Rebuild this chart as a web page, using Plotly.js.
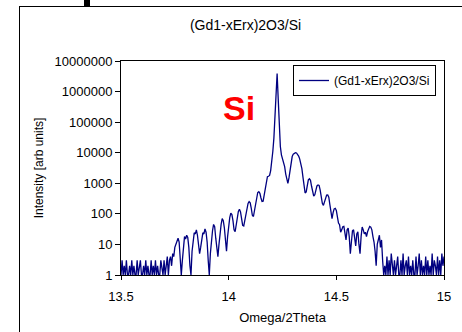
<!DOCTYPE html>
<html>
<head>
<meta charset="utf-8">
<script src="https://cdn.plot.ly/plotly-3.0.1.min.js"></script>
<style>
  html, body { margin: 0; padding: 0; background: #fff; }
  #wrap { position: relative; width: 462px; height: 332px; overflow: hidden; }
  #chart { position: absolute; left: 0; top: 0; width: 462px; height: 332px; }
  #frame { position: absolute; left: 19px; top: 6px; width: 460px; height: 340px; border: 1.5px solid #000; pointer-events: none; box-sizing: border-box; }
  #tab { position: absolute; left: 84px; top: 0px; width: 6px; height: 7px; background: #000; pointer-events: none; }
</style>
</head>
<body>
<div id="wrap">
  <div id="chart"></div>
  <div id="frame"></div>
  <div id="tab"></div>
</div>
<script>
// Scan grid (omega/2theta, degrees)
const scanStart = 13.5;
const scanStep = 0.005;

// Measured intensity (arb units), one value per scan step from 13.500 to 15.000
const intensity = [
  // 13.500 - 13.725 : background
  1,3,1,2,1,3,1,1,2,1,
  3,1,2,1,1,3,1,2,3,1,
  1,2,1,3,1,2,1,1,3,1,
  2,1,3,1,2,1,1,3,2,1,
  3,1,2,4,1,3,
  // 13.730 - 14.220 : thickness fringes rising to the Si peak
  4,2,5,4,8,10,14,16,12,4,
  1,3,10,18,15,20,17,8,2,1,
  6,15,24,22,30,20,9,5,8,14,
  24,22,32,25,12,3,1,5,18,28,
  45,38,16,6,4,10,30,45,70,60,
  35,14,6,18,45,75,105,95,60,30,
  26,48,85,120,141,115,70,42,40,65,
  110,170,220,251,230,150,90,82,130,230,
  380,500,532,470,330,255,260,420,800,1400,
  1650,1700,1800,2600,5000,11000,30000,140000,900000,
  // 14.225 : Si substrate peak
  3900000,
  // 14.230 - 14.720 : film peak and fringes
  600000,70000,16000,8500,6000,5200,3500,2000,1200,1000,
  1500,3000,5500,7500,9000,9800,10000,9800,9000,7800,
  6200,4600,3000,1600,800,480,520,900,1300,1400,
  1250,800,480,380,420,650,820,880,850,600,
  350,220,190,260,360,410,414,350,200,100,
  70,110,145,152,130,80,50,44,25,30,
  38,39,20,14,30,34,18,5,12,28,
  30,12,9,22,26,10,5,18,37,30,
  22,25,18,26,35,39,37,30,18,12,
  6,2,10,16,20,8,14,3,1,
  // 14.725 - 15.000 : background
  2,1,4,1,3,1,5,2,1,3,
  1,2,4,1,1,3,1,5,1,2,
  3,1,4,1,2,1,3,1,1,4,
  1,2,5,1,3,1,2,1,4,1,
  3,1,2,1,5,1,3,2,1,4,
  1,3,1,5,2,4
];
const omega2Theta = intensity.map((_, i) => +(scanStart + i * scanStep).toFixed(3));

const seriesName = '(Gd1-xErx)2O3/Si';
const chartTitle = '(Gd1-xErx)2O3/Si';
const xTitle = 'Omega/2Theta';
const yTitle = 'Intensity [arb units]';
const yTickVals = [1, 10, 100, 1000, 10000, 100000, 1000000, 10000000];
const yTickText = ['1', '10', '100', '1000', '10000', '100000', '1000000', '10000000'];
const xTickVals = [13.5, 14, 14.5, 15];
const xTickText = ['13.5', '14', '14.5', '15'];
const peakLabel = 'Si';

const FONT = '"Liberation Sans", Arial, Helvetica, sans-serif';

const trace = {
  x: omega2Theta,
  y: intensity,
  type: 'scatter',
  mode: 'lines',
  name: seriesName,
  line: { color: '#000080', width: 1.3 },
  showlegend: true
};

const layout = {
  width: 462,
  height: 332,
  margin: { l: 121, r: 18, t: 61, b: 57, pad: 0 },
  paper_bgcolor: '#ffffff',
  plot_bgcolor: '#ffffff',
  font: { family: FONT, size: 13, color: '#000' },
  title: {
    text: chartTitle,
    font: { family: FONT, size: 14, color: '#000' },
    xref: 'container', yref: 'container',
    x: 245.5 / 462, xanchor: 'center',
    y: 1 - 25 / 332, yanchor: 'middle'
  },
  xaxis: {
    range: [13.5, 15],
    tickvals: xTickVals,
    ticktext: xTickText,
    ticks: 'outside', ticklen: 4, tickwidth: 1, tickcolor: '#000',
    ticklabelstandoff: 5,
    showline: true, linecolor: '#000', linewidth: 1, mirror: true,
    showgrid: false, zeroline: false,
    tickfont: { family: FONT, size: 13, color: '#000' },
    title: { text: xTitle, font: { family: FONT, size: 13, color: '#000' }, standoff: 10 }
  },
  yaxis: {
    type: 'log',
    range: [0, 7],
    tickvals: yTickVals,
    ticktext: yTickText,
    ticks: 'outside', ticklen: 5, tickwidth: 1, tickcolor: '#000',
    showline: true, linecolor: '#000', linewidth: 1, mirror: true,
    showgrid: false, zeroline: false,
    tickfont: { family: FONT, size: 13, color: '#000' },
    title: { text: yTitle, font: { family: FONT, size: 12, color: '#000' }, standoff: 8 }
  },
  legend: {
    x: (293 - 121) / 323, y: (275 - 65) / 214,
    xanchor: 'left', yanchor: 'top',
    bgcolor: '#ffffff', bordercolor: '#000', borderwidth: 1,
    font: { family: FONT, size: 12, color: '#000' }
  },
  annotations: [{
    text: '<b>' + peakLabel + '</b>',
    xref: 'x', yref: 'y',
    x: 14.048, y: 5.47,
    showarrow: false,
    font: { family: FONT, size: 34, color: '#ff0000' },
    xanchor: 'center', yanchor: 'middle'
  }]
};

Plotly.newPlot('chart', [trace], layout, { displayModeBar: false, staticPlot: true });
</script>
</body>
</html>
